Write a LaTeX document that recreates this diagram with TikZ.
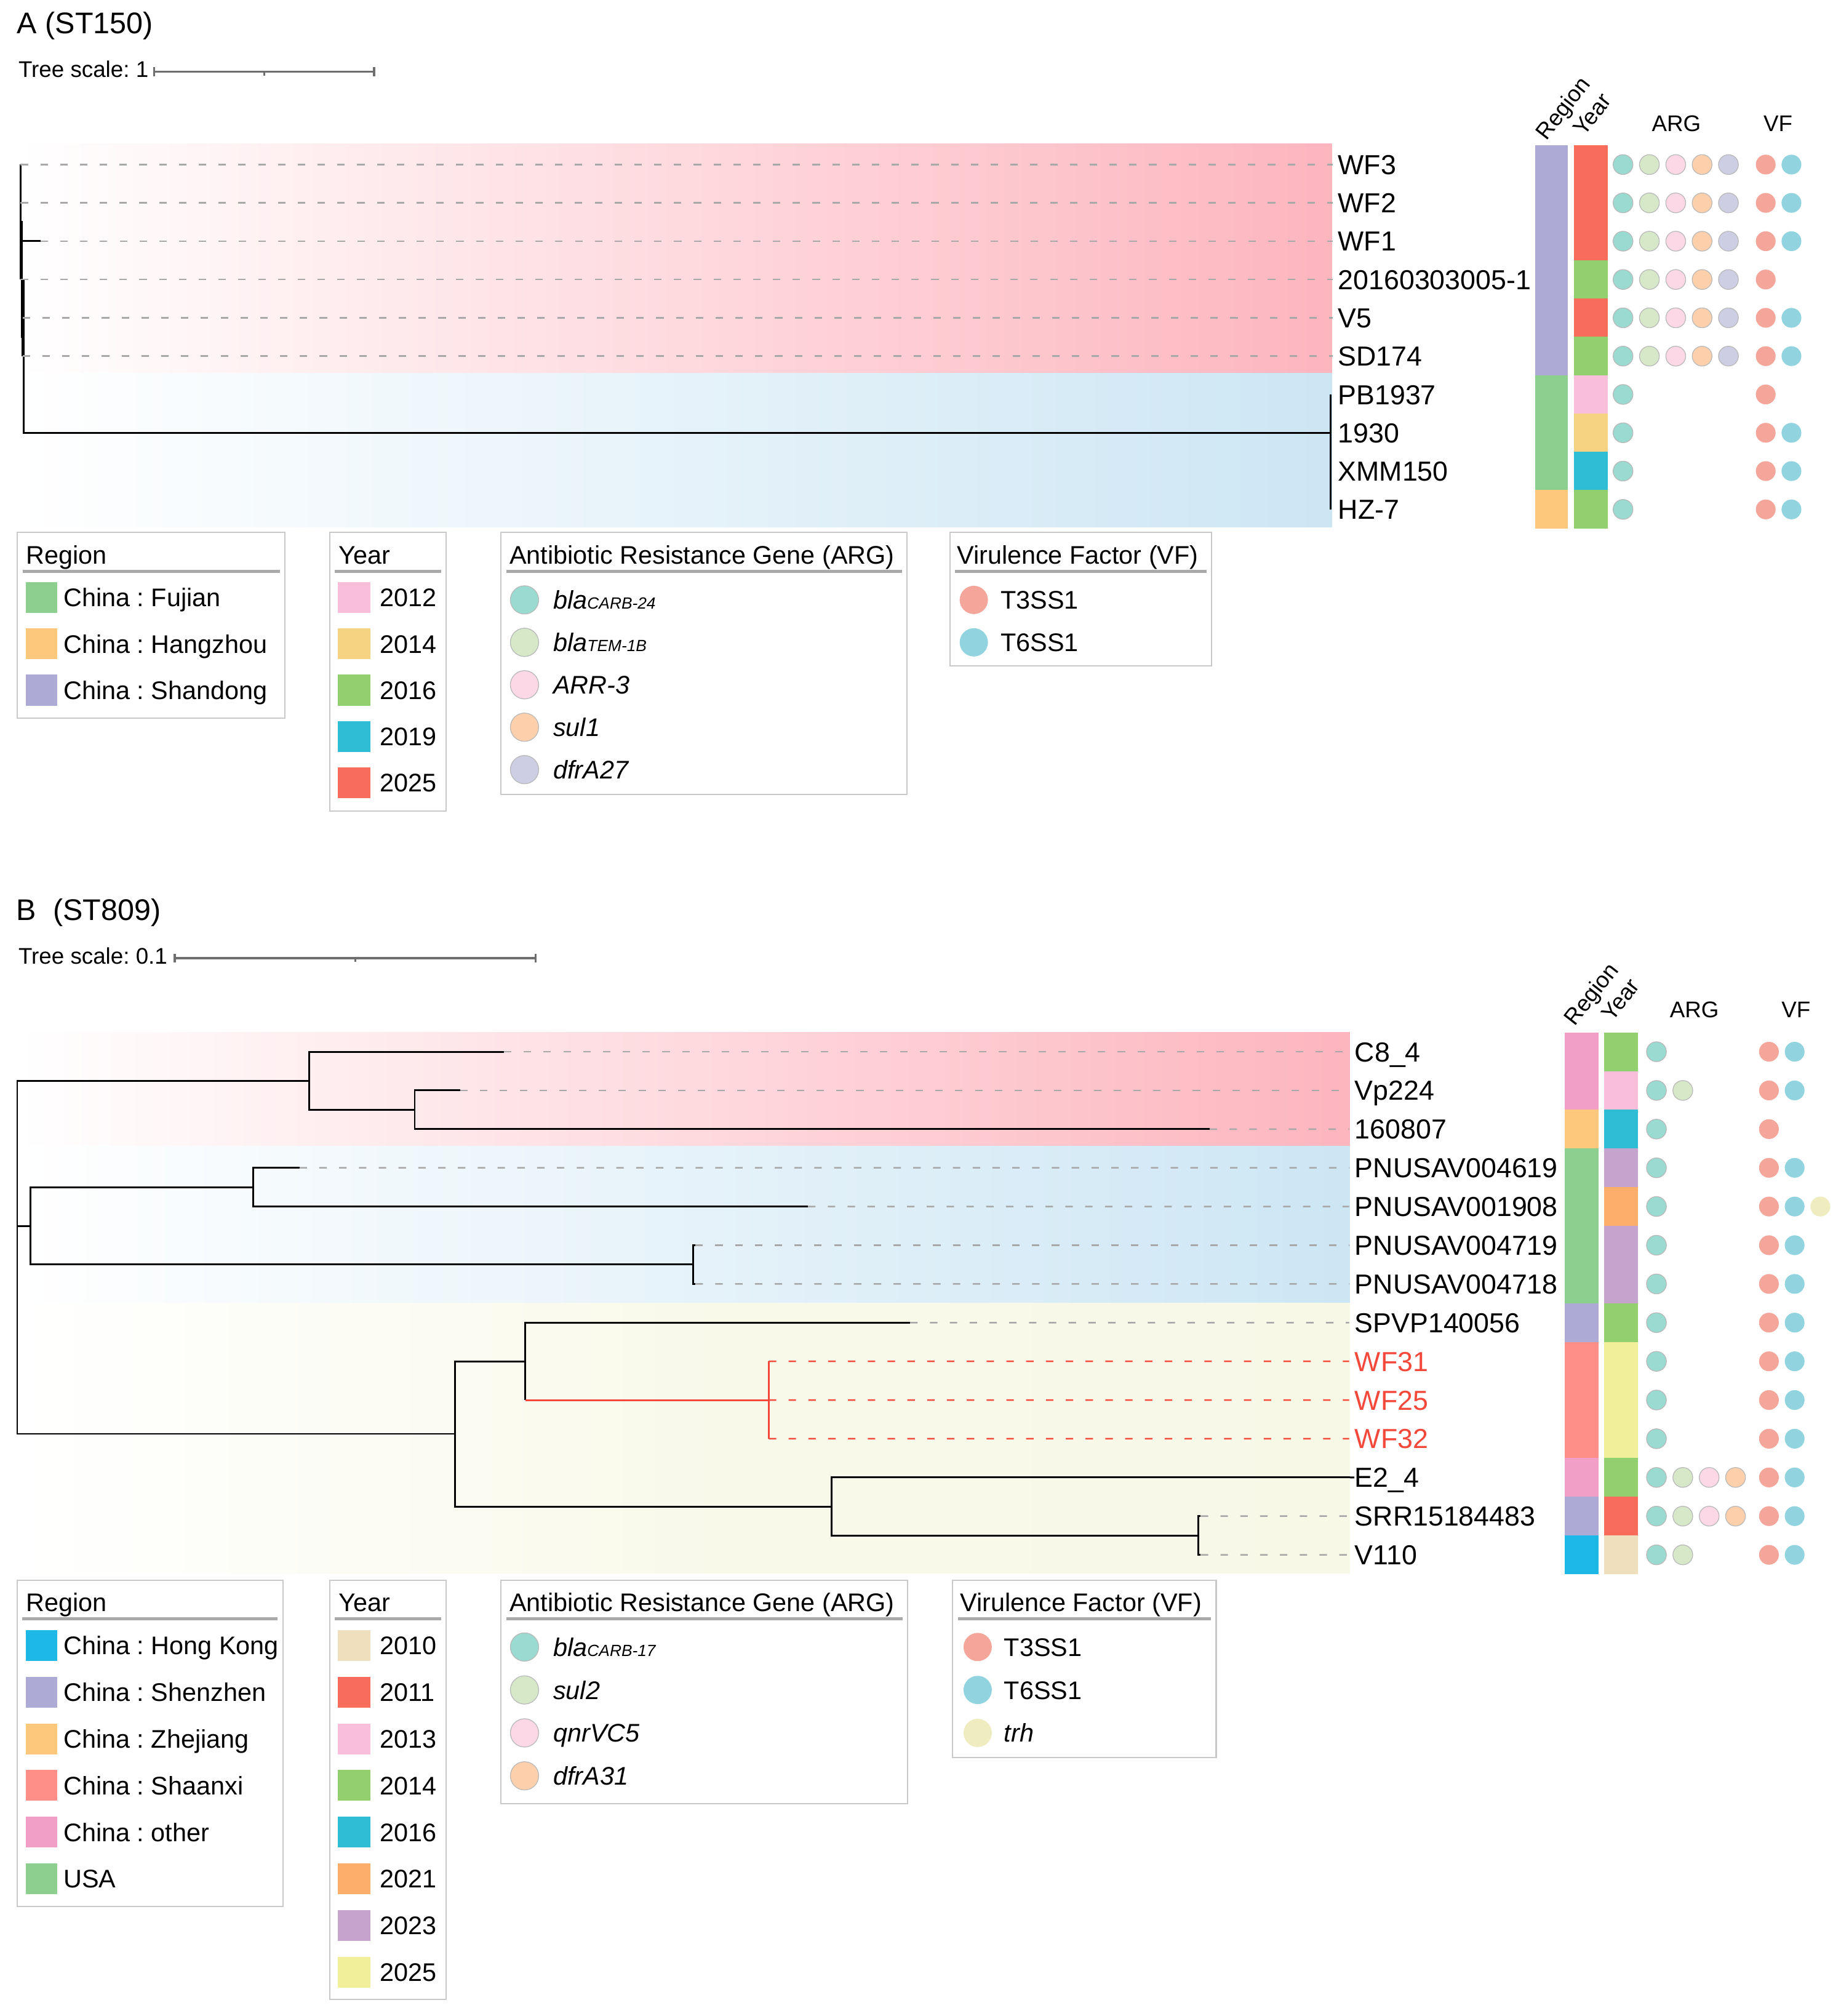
\documentclass[tikz,border=0pt]{standalone}
\usepackage{fontspec}
\setmainfont{Liberation Sans}
\usepackage{tikz}
\usetikzlibrary{calc}
\frenchspacing

\definecolor{bandpink}{HTML}{FDB5BE}
\definecolor{bandblue}{HTML}{CDE6F4}
\definecolor{bandyellow}{HTML}{F8F8E7}
\definecolor{treered}{HTML}{F4493A}
\definecolor{leadgray}{HTML}{A8A8A8}
\definecolor{scalegray}{HTML}{6E6E6E}
\definecolor{boxgray}{HTML}{C9C9C9}
\definecolor{rulegray}{HTML}{A9A9A9}
\definecolor{cgreen}{HTML}{8DCF8F}
\definecolor{corange}{HTML}{FEC87C}
\definecolor{cpurple}{HTML}{ADAAD6}
\definecolor{cblue}{HTML}{1DB8E6}
\definecolor{csalmon}{HTML}{FD8F87}
\definecolor{cpink}{HTML}{F29FC8}
\definecolor{ybeige}{HTML}{F0DFBC}
\definecolor{yred}{HTML}{F76C5B}
\definecolor{ypink}{HTML}{F9BEDA}
\definecolor{ytan}{HTML}{F6D283}
\definecolor{ygreen}{HTML}{92CF6F}
\definecolor{ycyan}{HTML}{2EBDD5}
\definecolor{yorange}{HTML}{FDAE6B}
\definecolor{ylilac}{HTML}{C4A3CD}
\definecolor{ylemon}{HTML}{F1EF9A}
\definecolor{argA}{HTML}{99DBD0}
\definecolor{argB}{HTML}{D6E8C8}
\definecolor{argC}{HTML}{FCD8E6}
\definecolor{argD}{HTML}{FDD0AB}
\definecolor{argE}{HTML}{CDCDE4}
\definecolor{vfA}{HTML}{F4A69A}
\definecolor{vfB}{HTML}{91D4E0}
\definecolor{vfC}{HTML}{EFEDC0}

\newcommand\fTitle{\fontsize{11.6pt}{13pt}\selectfont}
\newcommand\fScale{\fontsize{8.8pt}{10pt}\selectfont}
\newcommand\fLeaf{\fontsize{10.7pt}{12pt}\selectfont}
\newcommand\fHead{\fontsize{8.8pt}{10pt}\selectfont}
\newcommand\fLeg{\fontsize{9.9pt}{11pt}\selectfont}
\newcommand\fSub{\fontsize{6.3pt}{7pt}\selectfont}
\newcommand\genesub[2]{\textit{#1{\fSub #2}}}

\begin{document}
\begin{tikzpicture}[x=0.5pt,y=-0.5pt,
                branch/.style={line width=0.7pt},
                redbranch/.style={branch,draw=treered},
                leader/.style={draw=leadgray,line width=0.6pt,dash pattern=on 2.9pt off 4.8pt,shorten >=2pt},
                redleader/.style={leader,draw=treered},
                leaf/.style={anchor=west,inner sep=0pt,text height=7.66pt,text depth=0pt,font=\fLeaf},
                hdr/.style={inner sep=0pt,text height=6.3pt,text depth=0pt,font=\fHead},
                rothdr/.style={hdr,anchor=base west,rotate=52},
                legtext/.style={anchor=west,inner sep=0pt,text height=7.09pt,text depth=0pt,font=\fLeg},
                legbox/.style={draw=boxgray,line width=0.5pt},
                legrule/.style={draw=rulegray,line width=1.2pt},
                dotarg/.style={draw=gray!55,line width=0.3pt},
                scalebar/.style={draw=scalegray,line width=0.8pt}]
                \fill[white] (0,0) rectangle (1432,1568);
                \useasboundingbox (0,0) rectangle (1432,1568);

                \node[anchor=base west,inner sep=0pt,font=\fTitle] (ttlA) at (13,26.3) {A (ST150)};
                \node[anchor=base west,inner sep=0pt,font=\fScale] (scA) at (14,60) {Tree scale: 1};
                \coordinate (scA0) at (120,55.8);
                \coordinate (scA1) at (291,55.8);
                \draw[scalebar] (scA0) -- (scA1) (scA0) ++(0,-3.5) -- ++(0,7) (scA1) ++(0,-3.5) -- ++(0,7) ($(scA0)!0.5!(scA1)$) -- ++(0,3);

                \shade[left color=white,right color=bandpink] (14,112) rectangle (1036,290.5);
                \shade[left color=white,right color=bandblue] (14,290.5) rectangle (1036,410);

                \coordinate (a0) at (18.3,277);
                \coordinate (a1) at (17.1,217.4);
                \coordinate (a2) at (16,172.7);
                \coordinate (a4) at (17.6,262.1);
                \coordinate (a3) at (1035,336.6);
                \coordinate (tWF3) at (16,128);
                \coordinate (tWF2) at (16,157.8);
                \coordinate (tWF1) at (31.5,187.6);
                \coordinate (tS2016) at (16,217.4);
                \coordinate (tV5) at (17.6,247.2);
                \coordinate (tSD174) at (17.6,277);
                \coordinate (tPB) at (1035,306.8);
                \coordinate (tHZ7) at (1035,396.2);
                \draw[branch] (a0) |- (a1) (a0) |- (a3) (a1) |- (a2) (a1) |- (a4)
                              (a2) |- (tWF3) (a2) |- (tWF2) (a2) |- (tWF1) (a2) |- (tS2016)
                              (a4) |- (tV5) (a4) |- (tSD174) (a3) |- (tPB) (a3) |- (tHZ7);

                \node[leaf] (lWF3) at (1040.5,128) {WF3};
                \node[leaf] (lWF2) at (1040.5,157.8) {WF2};
                \node[leaf] (lWF1) at (1040.5,187.6) {WF1};
                \node[leaf] (lS2016) at (1040.5,217.4) {20160303005-1};
                \node[leaf] (lV5) at (1040.5,247.2) {V5};
                \node[leaf] (lSD174) at (1040.5,277) {SD174};
                \node[leaf] (lPB) at (1040.5,306.8) {PB1937};
                \node[leaf] (l1930) at (1040.5,336.6) {1930};
                \node[leaf] (lXMM) at (1040.5,366.4) {XMM150};
                \node[leaf] (lHZ7) at (1040.5,396.2) {HZ-7};
                \foreach \t in {WF3,WF2,WF1,S2016,V5,SD174}
                    \draw[leader] (t\t) -- (l\t.west);

                \node[rothdr] (hRegA) at (1203,110) {Region};
                \node[rothdr] (hYearA) at (1232,107) {Year};
                \node[hdr] (hArgA) at (1304,95.7) {ARG};
                \node[hdr] (hVfA) at (1383,95.7) {VF};
                \foreach \a/\b/\c in {0/6/cpurple,6/9/cgreen,9/10/corange}
                    \fill[\c] (1194,{113+29.8*\a}) rectangle (1219.5,{113+29.8*\b});
                \foreach \a/\b/\c in {0/3/yred,3/4/ygreen,4/5/yred,5/6/ygreen,6/7/ypink,7/8/ytan,8/9/ycyan,9/10/ygreen}
                    \fill[\c] (1224.5,{113+29.8*\a}) rectangle (1250.5,{113+29.8*\b});
                \foreach \r in {0,...,5}
                    \foreach \x/\c in {1262.5/argA,1283/argB,1303.5/argC,1324/argD,1344.5/argE}
                        \path[dotarg,fill=\c] (\x,{128+29.8*\r}) circle[radius=7.7];
                \foreach \r in {6,...,9}
                    \path[dotarg,fill=argA] (1262.5,{128+29.8*\r}) circle[radius=7.7];
                \foreach \r in {0,...,9}
                    \fill[vfA] (1373.5,{128+29.8*\r}) circle[radius=7.7];
                \foreach \r in {0,1,2,4,5,7,8,9}
                    \fill[vfB] (1393.5,{128+29.8*\r}) circle[radius=7.7];

                \draw[legbox] (13.5,414) rectangle (221.8,558.6);
                \node[legtext] (lgRegA) at (20,431.5) {Region};
                \draw[legrule] (17.5,444.3) -- (217.8,444.3);
                \foreach \c/\t [count=\i from 0] in {cgreen/China : Fujian,corange/China : Hangzhou,cpurple/China : Shandong}{
                    \fill[\c] (20,{464.8+36*\i-12}) rectangle (44.5,{464.8+36*\i+12});
                    \node[legtext] (lgRegA\i) at (49,{464.8+36*\i}) {\t};
                }
                \draw[legbox] (256.5,414) rectangle (347,631);
                \node[legtext] (lgYearA) at (263,431.5) {Year};
                \draw[legrule] (260.5,444.3) -- (343,444.3);
                \foreach \c/\t [count=\i from 0] in {ypink/2012,ytan/2014,ygreen/2016,ycyan/2019,yred/2025}{
                    \fill[\c] (263,{464.8+36*\i-12}) rectangle (288,{464.8+36*\i+12});
                    \node[legtext] (lgYearA\i) at (295,{464.8+36*\i}) {\t};
                }
                \draw[legbox] (389.8,414) rectangle (705.5,618);
                \node[legtext] (lgArgA) at (396,431.5) {Antibiotic Resistance Gene (ARG)};
                \draw[legrule] (393.8,444.3) -- (701.5,444.3);
                \foreach \c/\t [count=\i from 0] in {argA/\genesub{bla}{CARB-24},argB/\genesub{bla}{TEM-1B},argC/\textit{ARR-3},argD/\textit{sul1},argE/\textit{dfrA27}}{
                    \path[dotarg,fill=\c] (408,{466.6+33*\i}) circle[radius=11];
                    \node[legtext] (lgArgA\i) at (430,{466.6+33*\i}) {\t};
                }
                \draw[legbox] (739,414) rectangle (942.6,518);
                \node[legtext] (lgVfA) at (744,431.5) {Virulence Factor (VF)};
                \draw[legrule] (743,444.3) -- (938.6,444.3);
                \foreach \c/\t [count=\i from 0] in {vfA/T3SS1,vfB/T6SS1}{
                    \fill[\c] (757.5,{466.6+33*\i}) circle[radius=11];
                    \node[legtext] (lgVfA\i) at (778,{466.6+33*\i}) {\t};
                }

                \node[anchor=base west,inner sep=0pt,font=\fTitle] (ttlB) at (12.5,715.6) {B~~(ST809)};
                \node[anchor=base west,inner sep=0pt,font=\fScale] (scB) at (14,750) {Tree scale: 0.1};
                \coordinate (scB0) at (136,745.3);
                \coordinate (scB1) at (416.5,745.3);
                \draw[scalebar] (scB0) -- (scB1) (scB0) ++(0,-3.5) -- ++(0,7) (scB1) ++(0,-3.5) -- ++(0,7) ($(scB0)!0.5!(scB1)$) -- ++(0,3);

                \shade[left color=white,right color=bandpink] (14,803) rectangle (1050,891.5);
                \shade[left color=white,right color=bandblue] (14,891.5) rectangle (1050,1013.4);
                \shade[left color=white,right color=bandyellow,middle color=bandyellow!85!white] (14,1013.4) rectangle (1050,1223.6);

                \coordinate (bR) at (13.4,978);
                \coordinate (bP) at (240.6,840.6);
                \coordinate (bP2) at (322.6,863.2);
                \coordinate (bU) at (23.5,953.5);
                \coordinate (bU1) at (197,923.4);
                \coordinate (bU2) at (539,983.5);
                \coordinate (bY) at (354,1115.2);
                \coordinate (bY1) at (408.7,1058.8);
                \coordinate (bW) at (598,1088.9);
                \coordinate (bY2) at (646.7,1171.7);
                \coordinate (bS) at (932,1194.3);
                \coordinate (tC84) at (392,818);
                \coordinate (tVp) at (358,848.1);
                \coordinate (t1608) at (941,878.2);
                \coordinate (tP4619) at (233,908.3);
                \coordinate (tP1908) at (628.5,938.4);
                \coordinate (tP4719) at (541,968.5);
                \coordinate (tP4718) at (541,998.6);
                \coordinate (tSPVP) at (708,1028.7);
                \coordinate (tWF31) at (598,1058.8);
                \coordinate (tWF25) at (598,1088.9);
                \coordinate (tWF32) at (598,1119);
                \coordinate (tE24) at (1050,1149.1);
                \coordinate (tSRR) at (934,1179.2);
                \coordinate (tV110) at (934,1209.3);
                \draw[branch] (bR) |- (bP) (bR) |- (bU) (bR) |- (bY)
                              (bP) |- (tC84) (bP) |- (bP2) (bP2) |- (tVp) (bP2) |- (t1608)
                              (bU) |- (bU1) (bU) |- (bU2) (bU1) |- (tP4619) (bU1) |- (tP1908)
                              (bU2) |- (tP4719) (bU2) |- (tP4718)
                              (bY) |- (bY1) (bY) |- (bY2) (bY1) |- (tSPVP) (bY1) -- (bY1 |- bW)
                              (bY2) |- (tE24) (bY2) |- (bS) (bS) |- (tSRR) (bS) |- (tV110);
                \draw[redbranch] (bY1 |- bW) -- (bW) (bW) |- (tWF31) (bW) |- (tWF32);

                \foreach \n/\t/\c [count=\i from 0] in {C84/C8\_4/black,Vp/Vp224/black,1608/160807/black,P4619/PNUSAV004619/black,P1908/PNUSAV001908/black,P4719/PNUSAV004719/black,P4718/PNUSAV004718/black,SPVP/SPVP140056/black,WF31/WF31/treered,WF25/WF25/treered,WF32/WF32/treered,E24/E2\_4/black,SRR/SRR15184483/black,V110/V110/black}
                    \node[leaf,text=\c] (l\n) at (1053.5,{818+30.1*\i}) {\t};
                \foreach \t in {C84,Vp,1608,P4619,P1908,P4719,P4718,SPVP,SRR,V110}
                    \draw[leader] (t\t) -- (l\t.west);
                \foreach \t in {WF31,WF25,WF32}
                    \draw[redleader] (t\t) -- (l\t.west);
                \draw[branch] (tE24) -- (lE24.west);

                \node[rothdr] (hRegB) at (1225,799) {Region};
                \node[rothdr] (hYearB) at (1254,795.5) {Year};
                \node[hdr] (hArgB) at (1318,785.3) {ARG};
                \node[hdr] (hVfB) at (1397,785.3) {VF};
                \foreach \a/\b/\c in {0/2/cpink,2/3/corange,3/7/cgreen,7/8/cpurple,8/11/csalmon,11/12/cpink,12/13/cpurple,13/14/cblue}
                    \fill[\c] (1217,{803+30.1*\a}) rectangle (1243.5,{803+30.1*\b});
                \foreach \a/\b/\c in {0/1/ygreen,1/2/ypink,2/3/ycyan,3/4/ylilac,4/5/yorange,5/7/ylilac,7/8/ygreen,8/11/ylemon,11/12/ygreen,12/13/yred,13/14/ybeige}
                    \fill[\c] (1248,{803+30.1*\a}) rectangle (1274,{803+30.1*\b});
                \foreach \r in {0,...,13}
                    \path[dotarg,fill=argA] (1288.5,{818+30.1*\r}) circle[radius=7.7];
                \foreach \r in {1,11,12,13}
                    \path[dotarg,fill=argB] (1309,{818+30.1*\r}) circle[radius=7.7];
                \foreach \r in {11,12}{
                    \path[dotarg,fill=argC] (1329.5,{818+30.1*\r}) circle[radius=7.7];
                    \path[dotarg,fill=argD] (1350,{818+30.1*\r}) circle[radius=7.7];
                }
                \foreach \r in {0,...,13}
                    \fill[vfA] (1376,{818+30.1*\r}) circle[radius=7.7];
                \foreach \r in {0,1,3,4,...,13}
                    \fill[vfB] (1396,{818+30.1*\r}) circle[radius=7.7];
                \fill[vfC] (1416,{818+30.1*4}) circle[radius=7.7];

                \draw[legbox] (13.4,1229) rectangle (220,1483);
                \node[legtext] (lgRegB) at (20,1246) {Region};
                \draw[legrule] (17.4,1258.8) -- (216,1258.8);
                \foreach \c/\t [count=\i from 0] in {cblue/China : Hong Kong,cpurple/China : Shenzhen,corange/China : Zhejiang,csalmon/China : Shaanxi,cpink/China : other,cgreen/USA}{
                    \fill[\c] (20,{1279.8+36.3*\i-12}) rectangle (44.5,{1279.8+36.3*\i+12});
                    \node[legtext] (lgRegB\i) at (49,{1279.8+36.3*\i}) {\t};
                }
                \draw[legbox] (256.5,1229) rectangle (347,1555);
                \node[legtext] (lgYearB) at (263,1246) {Year};
                \draw[legrule] (260.5,1258.8) -- (343,1258.8);
                \foreach \c/\t [count=\i from 0] in {ybeige/2010,yred/2011,ypink/2013,ygreen/2014,ycyan/2016,yorange/2021,ylilac/2023,ylemon/2025}{
                    \fill[\c] (263,{1279.8+36.3*\i-12}) rectangle (288,{1279.8+36.3*\i+12});
                    \node[legtext] (lgYearB\i) at (295,{1279.8+36.3*\i}) {\t};
                }
                \draw[legbox] (389.8,1229) rectangle (706,1402.7);
                \node[legtext] (lgArgB) at (396,1246) {Antibiotic Resistance Gene (ARG)};
                \draw[legrule] (393.8,1258.8) -- (702,1258.8);
                \foreach \c/\t [count=\i from 0] in {argA/\genesub{bla}{CARB-17},argB/\textit{sul2},argC/\textit{qnrVC5},argD/\textit{dfrA31}}{
                    \path[dotarg,fill=\c] (408,{1281+33.4*\i}) circle[radius=11];
                    \node[legtext] (lgArgB\i) at (430,{1281+33.4*\i}) {\t};
                }
                \draw[legbox] (741,1229) rectangle (946,1367);
                \node[legtext] (lgVfB) at (746.5,1246) {Virulence Factor (VF)};
                \draw[legrule] (745,1258.8) -- (942,1258.8);
                \foreach \c/\t [count=\i from 0] in {vfA/T3SS1,vfB/T6SS1,vfC/\textit{trh}}{
                    \fill[\c] (760.5,{1281+33.4*\i}) circle[radius=11];
                    \node[legtext] (lgVfB\i) at (780.7,{1281+33.4*\i}) {\t};
                }
            \end{tikzpicture}
\end{document}
